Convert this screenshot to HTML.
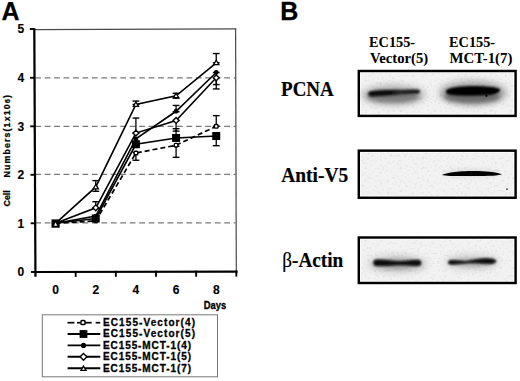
<!DOCTYPE html><html><head><meta charset="utf-8"><style>html,body{margin:0;padding:0;background:#fff;width:520px;height:381px;overflow:hidden}svg{display:block}</style></head><body>
<svg width="520" height="381" viewBox="0 0 520 381">
<defs>
<filter id="b1" x="-30%" y="-100%" width="160%" height="300%"><feGaussianBlur stdDeviation="2.2"/></filter>
<filter id="b2" x="-30%" y="-100%" width="160%" height="300%"><feGaussianBlur stdDeviation="0.9"/></filter>
<filter id="b4" x="-30%" y="-100%" width="160%" height="300%"><feGaussianBlur stdDeviation="0.45"/></filter>
<filter id="b3" x="-30%" y="-100%" width="160%" height="300%"><feGaussianBlur stdDeviation="3.5"/></filter>
<linearGradient id="g1" x1="0" x2="1" y1="0" y2="0"><stop offset="0" stop-color="#080808"/><stop offset="0.45" stop-color="#111"/><stop offset="0.6" stop-color="#2a2a2a"/><stop offset="1" stop-color="#151515"/></linearGradient>
<filter id="nz" x="0" y="0" width="100%" height="100%"><feTurbulence type="fractalNoise" baseFrequency="0.4" numOctaves="2" seed="7"/><feColorMatrix type="matrix" values="0 0 0 0 0  0 0 0 0 0  0 0 0 0 0  -3.2 0 0 0 1.45"/></filter>
</defs>
<text x="1.4" y="19.6" font-family="Liberation Sans" font-weight="bold" font-size="25" stroke="#000" stroke-width="0.25">A</text>
<line x1="35.2" y1="222.85" x2="235.5" y2="222.85" stroke="#7a7a7a" stroke-width="1.15" stroke-dasharray="5.8 3.65"/>
<line x1="35.2" y1="174.30" x2="235.5" y2="174.30" stroke="#7a7a7a" stroke-width="1.15" stroke-dasharray="5.8 3.65"/>
<line x1="35.2" y1="126.30" x2="235.5" y2="126.30" stroke="#7a7a7a" stroke-width="1.15" stroke-dasharray="5.8 3.65"/>
<line x1="35.2" y1="77.80" x2="235.5" y2="77.80" stroke="#7a7a7a" stroke-width="1.15" stroke-dasharray="5.8 3.65"/>
<line x1="35" y1="29.7" x2="236.2" y2="28.9" stroke="#4a4a4a" stroke-width="1.2"/>
<line x1="235.6" y1="28.4" x2="236.3" y2="272" stroke="#4a4a4a" stroke-width="1.2"/>
<line x1="34.3" y1="28.3" x2="35.45" y2="276.7" stroke="#000" stroke-width="2.25"/>
<line x1="34" y1="272.0" x2="237.6" y2="271.6" stroke="#000" stroke-width="2.1"/>
<line x1="30.93" y1="272.00" x2="35.43" y2="272.00" stroke="#000" stroke-width="1.9"/>
<text x="24.2" y="276.40" font-family="Liberation Sans" font-weight="bold" font-size="12" stroke="#000" stroke-width="0.15" text-anchor="end">0</text>
<line x1="30.70" y1="223.30" x2="35.20" y2="223.30" stroke="#000" stroke-width="1.9"/>
<text x="24.2" y="227.70" font-family="Liberation Sans" font-weight="bold" font-size="12" stroke="#000" stroke-width="0.15" text-anchor="end">1</text>
<line x1="30.48" y1="174.80" x2="34.98" y2="174.80" stroke="#000" stroke-width="1.9"/>
<text x="24.2" y="179.20" font-family="Liberation Sans" font-weight="bold" font-size="12" stroke="#000" stroke-width="0.15" text-anchor="end">2</text>
<line x1="30.25" y1="126.30" x2="34.75" y2="126.30" stroke="#000" stroke-width="1.9"/>
<text x="24.2" y="130.70" font-family="Liberation Sans" font-weight="bold" font-size="12" stroke="#000" stroke-width="0.15" text-anchor="end">3</text>
<line x1="30.03" y1="77.80" x2="34.53" y2="77.80" stroke="#000" stroke-width="1.9"/>
<text x="24.2" y="82.20" font-family="Liberation Sans" font-weight="bold" font-size="12" stroke="#000" stroke-width="0.15" text-anchor="end">4</text>
<line x1="29.80" y1="29.00" x2="34.30" y2="29.00" stroke="#000" stroke-width="1.9"/>
<text x="24.2" y="33.40" font-family="Liberation Sans" font-weight="bold" font-size="12" stroke="#000" stroke-width="0.15" text-anchor="end">5</text>
<line x1="75.68" y1="270.92" x2="75.68" y2="276.92" stroke="#000" stroke-width="1.9"/>
<line x1="115.84" y1="270.84" x2="115.84" y2="276.84" stroke="#000" stroke-width="1.9"/>
<line x1="156.00" y1="270.76" x2="156.00" y2="276.76" stroke="#000" stroke-width="1.9"/>
<line x1="196.16" y1="270.68" x2="196.16" y2="276.68" stroke="#000" stroke-width="1.9"/>
<line x1="236.32" y1="270.60" x2="236.32" y2="276.60" stroke="#000" stroke-width="1.9"/>
<text x="55.60" y="294.4" font-family="Liberation Sans" font-weight="bold" font-size="12" stroke="#000" stroke-width="0.15" text-anchor="middle">0</text>
<text x="95.76" y="294.4" font-family="Liberation Sans" font-weight="bold" font-size="12" stroke="#000" stroke-width="0.15" text-anchor="middle">2</text>
<text x="135.92" y="294.4" font-family="Liberation Sans" font-weight="bold" font-size="12" stroke="#000" stroke-width="0.15" text-anchor="middle">4</text>
<text x="176.08" y="294.4" font-family="Liberation Sans" font-weight="bold" font-size="12" stroke="#000" stroke-width="0.15" text-anchor="middle">6</text>
<text x="216.24" y="294.4" font-family="Liberation Sans" font-weight="bold" font-size="12" stroke="#000" stroke-width="0.15" text-anchor="middle">8</text>
<text x="203.8" y="308.6" font-family="Liberation Sans" font-weight="bold" font-size="10" stroke="#000" stroke-width="0.3" textLength="22.4" lengthAdjust="spacingAndGlyphs">Days</text>
<text transform="translate(9.5,206.5) rotate(-90)" font-family="Liberation Sans" font-weight="bold" font-size="8.8" stroke="#000" stroke-width="0.25" textLength="16.2" lengthAdjust="spacingAndGlyphs">Cell</text>
<text transform="translate(9.5,177.5) rotate(-90)" font-family="Liberation Sans" font-weight="bold" font-size="8.8" stroke="#000" stroke-width="0.25" textLength="82.5" lengthAdjust="spacing">Numbers(1x10<tspan font-size="7.5">6</tspan>)</text>
<line x1="95.76" y1="180.62" x2="95.76" y2="191.29" stroke="#000" stroke-width="1.3"/>
<line x1="92.36" y1="180.62" x2="99.16" y2="180.62" stroke="#000" stroke-width="1.4"/>
<line x1="92.36" y1="191.29" x2="99.16" y2="191.29" stroke="#000" stroke-width="1.4"/>
<line x1="95.76" y1="201.72" x2="95.76" y2="207.78" stroke="#000" stroke-width="1.3"/>
<line x1="92.36" y1="201.72" x2="99.16" y2="201.72" stroke="#000" stroke-width="1.4"/>
<line x1="92.36" y1="207.78" x2="99.16" y2="207.78" stroke="#000" stroke-width="1.4"/>
<line x1="135.92" y1="101.08" x2="135.92" y2="104.47" stroke="#000" stroke-width="1.3"/>
<line x1="132.52" y1="101.08" x2="139.32" y2="101.08" stroke="#000" stroke-width="1.4"/>
<line x1="132.52" y1="104.47" x2="139.32" y2="104.47" stroke="#000" stroke-width="1.4"/>
<line x1="135.92" y1="118.06" x2="135.92" y2="133.09" stroke="#000" stroke-width="1.3"/>
<line x1="132.52" y1="118.06" x2="139.32" y2="118.06" stroke="#000" stroke-width="1.4"/>
<line x1="132.52" y1="133.09" x2="139.32" y2="133.09" stroke="#000" stroke-width="1.4"/>
<line x1="135.92" y1="152.49" x2="135.92" y2="160.25" stroke="#000" stroke-width="1.3"/>
<line x1="132.52" y1="152.49" x2="139.32" y2="152.49" stroke="#000" stroke-width="1.4"/>
<line x1="132.52" y1="160.25" x2="139.32" y2="160.25" stroke="#000" stroke-width="1.4"/>
<line x1="176.08" y1="105.44" x2="176.08" y2="111.75" stroke="#000" stroke-width="1.3"/>
<line x1="172.68" y1="105.44" x2="179.48" y2="105.44" stroke="#000" stroke-width="1.4"/>
<line x1="172.68" y1="111.75" x2="179.48" y2="111.75" stroke="#000" stroke-width="1.4"/>
<line x1="176.08" y1="128.72" x2="176.08" y2="137.94" stroke="#000" stroke-width="1.3"/>
<line x1="172.68" y1="128.72" x2="179.48" y2="128.72" stroke="#000" stroke-width="1.4"/>
<line x1="172.68" y1="137.94" x2="179.48" y2="137.94" stroke="#000" stroke-width="1.4"/>
<line x1="176.08" y1="120.48" x2="176.08" y2="131.15" stroke="#000" stroke-width="1.3"/>
<line x1="172.68" y1="120.48" x2="179.48" y2="120.48" stroke="#000" stroke-width="1.4"/>
<line x1="172.68" y1="131.15" x2="179.48" y2="131.15" stroke="#000" stroke-width="1.4"/>
<line x1="176.08" y1="146.19" x2="176.08" y2="157.34" stroke="#000" stroke-width="1.3"/>
<line x1="172.68" y1="146.19" x2="179.48" y2="146.19" stroke="#000" stroke-width="1.4"/>
<line x1="172.68" y1="157.34" x2="179.48" y2="157.34" stroke="#000" stroke-width="1.4"/>
<line x1="176.08" y1="93.32" x2="176.08" y2="98.17" stroke="#000" stroke-width="1.3"/>
<line x1="172.68" y1="93.32" x2="179.48" y2="93.32" stroke="#000" stroke-width="1.4"/>
<line x1="172.68" y1="98.17" x2="179.48" y2="98.17" stroke="#000" stroke-width="1.4"/>
<line x1="216.24" y1="53.55" x2="216.24" y2="62.77" stroke="#000" stroke-width="1.3"/>
<line x1="212.84" y1="53.55" x2="219.64" y2="53.55" stroke="#000" stroke-width="1.4"/>
<line x1="212.84" y1="62.77" x2="219.64" y2="62.77" stroke="#000" stroke-width="1.4"/>
<line x1="216.24" y1="77.80" x2="216.24" y2="88.96" stroke="#000" stroke-width="1.3"/>
<line x1="212.84" y1="77.80" x2="219.64" y2="77.80" stroke="#000" stroke-width="1.4"/>
<line x1="212.84" y1="88.96" x2="219.64" y2="88.96" stroke="#000" stroke-width="1.4"/>
<line x1="216.24" y1="72.47" x2="216.24" y2="84.59" stroke="#000" stroke-width="1.3"/>
<line x1="212.84" y1="72.47" x2="219.64" y2="72.47" stroke="#000" stroke-width="1.4"/>
<line x1="212.84" y1="84.59" x2="219.64" y2="84.59" stroke="#000" stroke-width="1.4"/>
<line x1="216.24" y1="115.63" x2="216.24" y2="126.30" stroke="#000" stroke-width="1.3"/>
<line x1="212.84" y1="115.63" x2="219.64" y2="115.63" stroke="#000" stroke-width="1.4"/>
<line x1="212.84" y1="126.30" x2="219.64" y2="126.30" stroke="#000" stroke-width="1.4"/>
<line x1="216.24" y1="136.00" x2="216.24" y2="145.70" stroke="#000" stroke-width="1.3"/>
<line x1="212.84" y1="136.00" x2="219.64" y2="136.00" stroke="#000" stroke-width="1.4"/>
<line x1="212.84" y1="145.70" x2="219.64" y2="145.70" stroke="#000" stroke-width="1.4"/>
<polyline points="55.60,223.30 95.76,220.88 135.92,152.98 176.08,145.22 216.24,126.30" fill="none" stroke="#000" stroke-width="1.7" stroke-dasharray="5 3"/>
<polyline points="55.60,223.30 95.76,218.45 135.92,144.25 176.08,137.94 216.24,136.00" fill="none" stroke="#000" stroke-width="1.6"/>
<polyline points="55.60,223.30 95.76,216.03 135.92,138.91 176.08,111.27 216.24,72.47" fill="none" stroke="#000" stroke-width="1.6"/>
<polyline points="55.60,223.30 95.76,207.78 135.92,133.09 176.08,120.48 216.24,77.80" fill="none" stroke="#000" stroke-width="1.6"/>
<polyline points="55.60,223.30 95.76,186.93 135.92,104.47 176.08,95.75 216.24,62.77" fill="none" stroke="#000" stroke-width="1.6"/>
<rect x="51.50" y="219.4" width="8.2" height="8.3" fill="#000"/>
<polygon points="55.60,222.6 57.30,225.8 53.90,225.8" fill="#fff"/>
<rect x="93.96" y="219.07" width="3.6" height="3.6" rx="0.9" fill="#fff" stroke="#000" stroke-width="1.4"/>
<rect x="91.76" y="214.45" width="8" height="8" fill="#000"/>
<circle cx="95.76" cy="216.03" r="2.4" fill="#000"/>
<polygon points="95.76,204.88 98.66,207.78 95.76,210.68 92.86,207.78" fill="#fff" stroke="#000" stroke-width="1.4"/>
<polygon points="95.76,184.43 98.38,188.80 93.13,188.80" fill="#fff" stroke="#000" stroke-width="1.3"/>
<rect x="134.12" y="151.18" width="3.6" height="3.6" rx="0.9" fill="#fff" stroke="#000" stroke-width="1.4"/>
<rect x="131.92" y="140.25" width="8" height="8" fill="#000"/>
<circle cx="135.92" cy="138.91" r="2.4" fill="#000"/>
<polygon points="135.92,130.19 138.82,133.09 135.92,135.99 133.02,133.09" fill="#fff" stroke="#000" stroke-width="1.4"/>
<polygon points="135.92,101.97 138.54,106.35 133.29,106.35" fill="#fff" stroke="#000" stroke-width="1.3"/>
<rect x="174.28" y="143.42" width="3.6" height="3.6" rx="0.9" fill="#fff" stroke="#000" stroke-width="1.4"/>
<rect x="172.08" y="133.94" width="8" height="8" fill="#000"/>
<circle cx="176.08" cy="111.27" r="2.4" fill="#000"/>
<polygon points="176.08,117.58 178.98,120.48 176.08,123.38 173.18,120.48" fill="#fff" stroke="#000" stroke-width="1.4"/>
<polygon points="176.08,93.25 178.70,97.62 173.45,97.62" fill="#fff" stroke="#000" stroke-width="1.3"/>
<rect x="214.44" y="124.50" width="3.6" height="3.6" rx="0.9" fill="#fff" stroke="#000" stroke-width="1.4"/>
<rect x="212.24" y="132.00" width="8" height="8" fill="#000"/>
<circle cx="216.24" cy="72.47" r="2.4" fill="#000"/>
<polygon points="216.24,74.90 219.14,77.80 216.24,80.70 213.34,77.80" fill="#fff" stroke="#000" stroke-width="1.4"/>
<polygon points="216.24,60.27 218.86,64.64 213.61,64.64" fill="#fff" stroke="#000" stroke-width="1.3"/>
<rect x="42.3" y="314.8" width="175.2" height="62" fill="none" stroke="#777" stroke-width="1"/>
<line x1="67.5" y1="322.7" x2="74.4" y2="322.7" stroke="#000" stroke-width="1.7"/>
<line x1="77" y1="322.7" x2="80" y2="322.7" stroke="#000" stroke-width="1.7"/>
<line x1="85" y1="322.7" x2="91.7" y2="322.7" stroke="#000" stroke-width="1.7"/>
<line x1="95.7" y1="322.7" x2="100.2" y2="322.7" stroke="#000" stroke-width="1.7"/>
<rect x="80.9" y="320.6" width="4.2" height="4" rx="1.2" fill="#fff" stroke="#000" stroke-width="1.5"/>
<text x="103" y="326.00" font-family="Liberation Sans" font-weight="bold" font-size="10" stroke="#000" stroke-width="0.3" textLength="92" lengthAdjust="spacing">EC155-Vector(4)</text>
<line x1="67.6" y1="334.0" x2="100.3" y2="334.0" stroke="#000" stroke-width="1.9"/>
<rect x="79.60" y="330.10" width="7.8" height="7.8" fill="#000"/>
<text x="103" y="337.30" font-family="Liberation Sans" font-weight="bold" font-size="10" stroke="#000" stroke-width="0.3" textLength="92" lengthAdjust="spacing">EC155-Vector(5)</text>
<line x1="67.6" y1="345.4" x2="100.3" y2="345.4" stroke="#000" stroke-width="1.9"/>
<circle cx="83.50" cy="345.40" r="2.55" fill="#000"/>
<text x="103" y="348.70" font-family="Liberation Sans" font-weight="bold" font-size="10" stroke="#000" stroke-width="0.3" textLength="88" lengthAdjust="spacing">EC155-MCT-1(4)</text>
<line x1="67.6" y1="356.8" x2="100.3" y2="356.8" stroke="#000" stroke-width="1.9"/>
<polygon points="83.50,353.40 86.90,356.80 83.50,360.20 80.10,356.80" fill="#fff" stroke="#000" stroke-width="1.4"/>
<text x="103" y="360.10" font-family="Liberation Sans" font-weight="bold" font-size="10" stroke="#000" stroke-width="0.3" textLength="88" lengthAdjust="spacing">EC155-MCT-1(5)</text>
<line x1="67.6" y1="368.2" x2="100.3" y2="368.2" stroke="#000" stroke-width="1.9"/>
<polygon points="83.50,366.10 86.02,370.30 80.98,370.30" fill="#fff" stroke="#000" stroke-width="1.3"/>
<text x="103" y="371.50" font-family="Liberation Sans" font-weight="bold" font-size="10" stroke="#000" stroke-width="0.3" textLength="88" lengthAdjust="spacing">EC155-MCT-1(7)</text>
<text x="280.3" y="19.6" font-family="Liberation Sans" font-weight="bold" font-size="25" stroke="#000" stroke-width="0.3">B</text>
<text x="369.1" y="46.7" font-family="Liberation Serif" font-weight="bold" font-size="14.3" stroke="#000" stroke-width="0.05" textLength="46" lengthAdjust="spacingAndGlyphs">EC155-</text>
<text x="370.1" y="63.3" font-family="Liberation Serif" font-weight="bold" font-size="14.3" stroke="#000" stroke-width="0.05" textLength="58" lengthAdjust="spacingAndGlyphs">Vector(5)</text>
<text x="449.1" y="46.7" font-family="Liberation Serif" font-weight="bold" font-size="14.3" stroke="#000" stroke-width="0.05" textLength="46" lengthAdjust="spacingAndGlyphs">EC155-</text>
<text x="449.4" y="63.3" font-family="Liberation Serif" font-weight="bold" font-size="14.3" stroke="#000" stroke-width="0.05" textLength="63" lengthAdjust="spacingAndGlyphs">MCT-1(7)</text>
<text x="281.1" y="95.6" font-family="Liberation Serif" font-weight="bold" font-size="20" stroke="#000" stroke-width="0.2" textLength="52.6" lengthAdjust="spacingAndGlyphs">PCNA</text>
<text x="281.2" y="181.7" font-family="Liberation Serif" font-weight="bold" font-size="20" stroke="#000" stroke-width="0.2" textLength="67" lengthAdjust="spacingAndGlyphs">Anti-V5</text>
<text x="282.3" y="267" font-family="Liberation Serif" font-size="20" stroke="#000" stroke-width="0.2" textLength="61" lengthAdjust="spacingAndGlyphs"><tspan>β</tspan><tspan font-weight="bold">-Actin</tspan></text>
<rect x="361.00" y="73.20" width="152.40" height="40.50" fill="#f2f2f2"/>
<rect x="361.00" y="152.85" width="152.40" height="42.70" fill="#f2f2f2"/>
<rect x="361.00" y="239.70" width="152.40" height="41.10" fill="#f2f2f2"/>
<ellipse cx="393.5" cy="95" rx="32" ry="10" fill="#b0b0b0" filter="url(#b3)"/>
<ellipse cx="393" cy="96.5" rx="26" ry="6" fill="#7a7a7a" filter="url(#b1)"/>
<path d="M370.5,91.2 C379,90 402,89.8 417.5,89.6 C421,90.2 421,93.2 417.5,93.7 C402,94.2 381,96.6 370.5,96.4 C367.5,95.6 367.5,92 370.5,91.2 Z" fill="url(#g1)" filter="url(#b2)"/>
<ellipse cx="473" cy="93" rx="34" ry="12" fill="#a0a0a0" filter="url(#b3)"/>
<ellipse cx="472" cy="96.5" rx="28" ry="6.5" fill="#6a6a6a" filter="url(#b1)"/>
<path d="M446.5,90 C452,85 490,84.6 499.5,88.8 C501.5,90.2 499,94 490,95 C475,96 455,96 448.5,94.4 C445.5,93.5 445.3,91.2 446.5,90 Z" fill="#050505" filter="url(#b2)"/>
<circle cx="486.5" cy="95.8" r="1.1" fill="#000"/>
<ellipse cx="472" cy="173" rx="28" ry="4" fill="#ddd" filter="url(#b1)"/>
<path d="M441.8,174.9 C452,170.2 490,169.6 501.8,174.2 C499,175.6 490,175.9 472,176 C455,176.1 447,176 441.8,174.9 Z" fill="#000" filter="url(#b4)"/>
<circle cx="507" cy="189.2" r="0.9" fill="#444"/>
<ellipse cx="397.5" cy="264" rx="30" ry="9" fill="#ccc" filter="url(#b3)"/>
<ellipse cx="397.5" cy="264" rx="24" ry="5" fill="#999" filter="url(#b1)"/>
<path d="M376,259.6 C383,258.8 390,260.8 398,261.2 C405,261.4 411,259.8 418,259.8 C422.5,260 422.5,265.8 418,265.9 C411,266 405,265 398,265.2 C390,265.4 383,266.4 376,266 C372.5,265.6 372.5,260 376,259.6 Z" fill="#080808" filter="url(#b2)"/>
<ellipse cx="472" cy="262" rx="28" ry="8" fill="#d4d4d4" filter="url(#b3)"/>
<ellipse cx="472" cy="262.5" rx="22" ry="4" fill="#aaa" filter="url(#b1)"/>
<path d="M450,260.2 C455,259.6 460,261 466,260.9 C472,260.6 478,258.6 484,258.3 C490,257.9 495,258.2 496.2,260.8 C496.6,263 493,264.2 488,264 C481,263.8 474,263 466,263.4 C460,263.8 455,264.8 450,264.6 C447.5,264.2 447.5,260.6 450,260.2 Z" fill="#080808" filter="url(#b2)"/>
<rect x="361.00" y="73.20" width="152.40" height="40.50" fill="#000" filter="url(#nz)" opacity="0.08"/>
<rect x="361.00" y="152.85" width="152.40" height="42.70" fill="#000" filter="url(#nz)" opacity="0.08"/>
<rect x="361.00" y="239.70" width="152.40" height="41.10" fill="#000" filter="url(#nz)" opacity="0.08"/>
<rect x="358.8" y="71.0" width="156.80" height="44.90" fill="none" stroke="#000" stroke-width="2.45"/>
<rect x="358.8" y="150.65" width="156.80" height="47.10" fill="none" stroke="#000" stroke-width="2.45"/>
<rect x="358.8" y="237.5" width="156.80" height="45.50" fill="none" stroke="#000" stroke-width="2.45"/>
</svg></body></html>
